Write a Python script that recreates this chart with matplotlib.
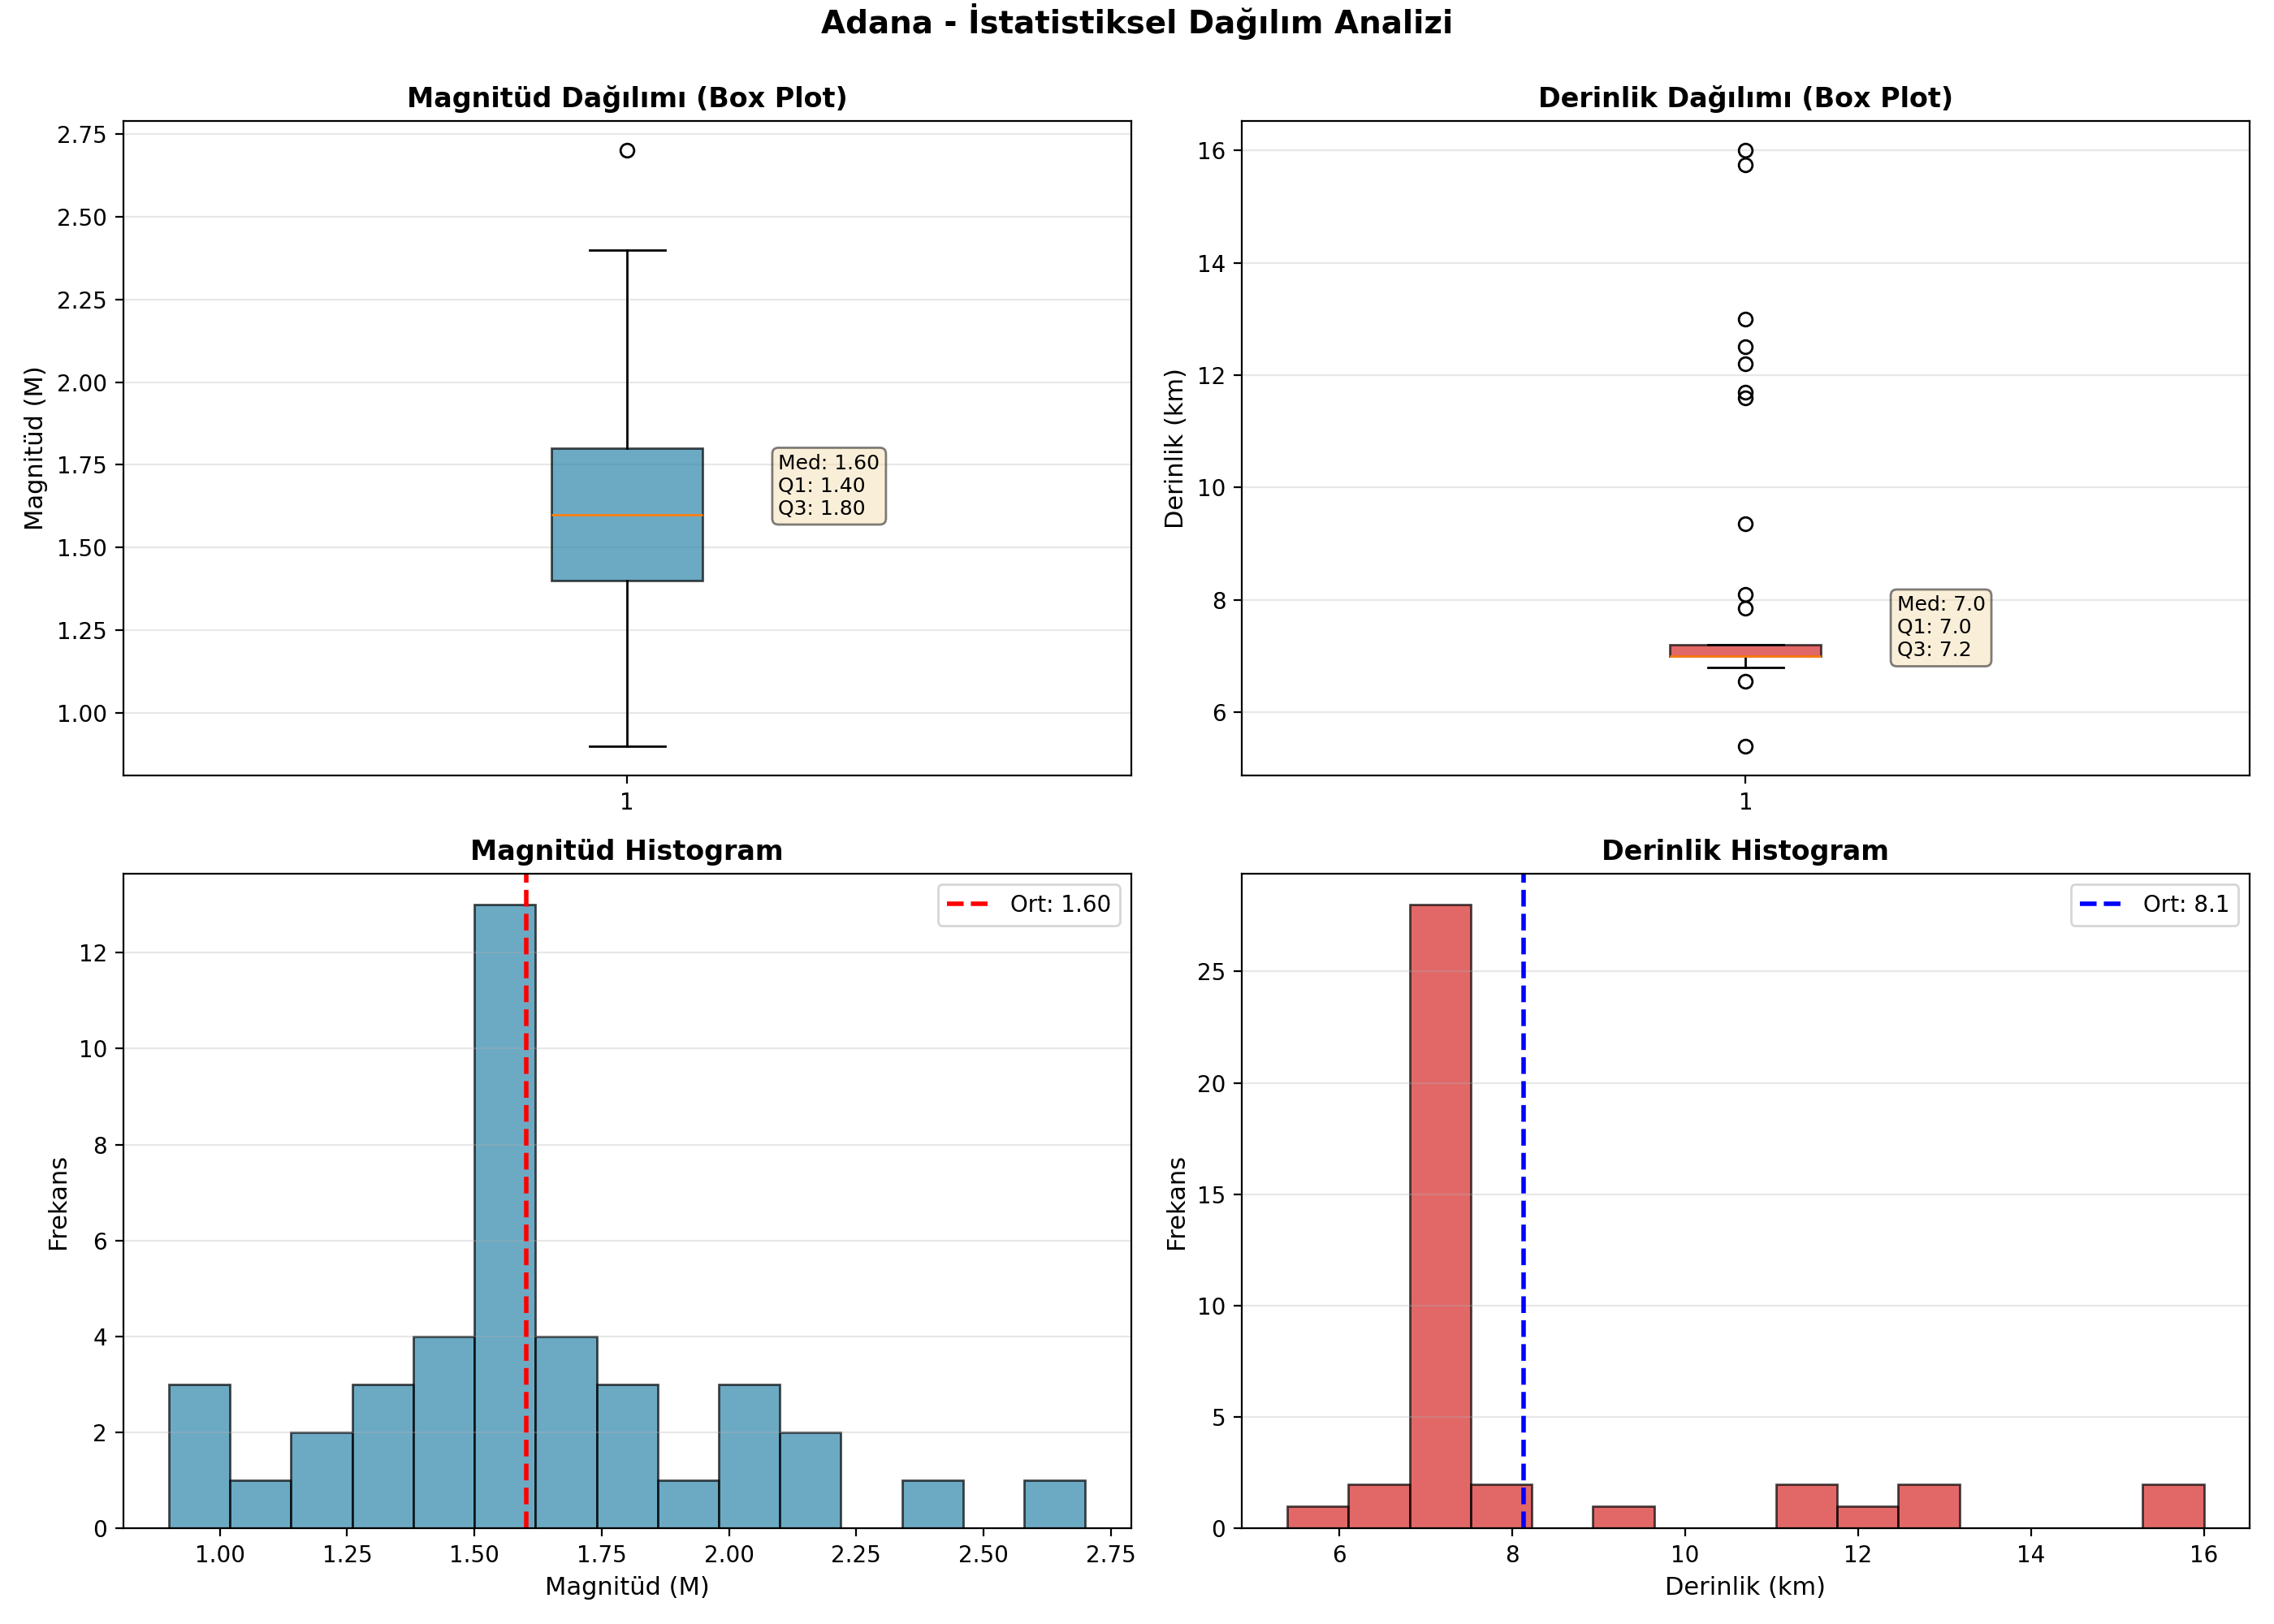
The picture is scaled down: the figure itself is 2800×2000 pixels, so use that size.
import numpy as np
import matplotlib
matplotlib.use("Agg")
import matplotlib.pyplot as plt

# Magnitude observations (M)
magnitudes = [0.9, 1.0, 1.0, 1.1, 1.2, 1.2, 1.3, 1.3, 1.3,
              1.4, 1.4, 1.4, 1.4,
              1.5, 1.5, 1.5, 1.5, 1.5,
              1.6, 1.6, 1.6, 1.6, 1.6, 1.6, 1.6, 1.6,
              1.7, 1.7, 1.7, 1.7, 1.8, 1.8, 1.8, 1.9,
              2.0, 2.0, 2.0, 2.1, 2.2, 2.4, 2.7]

# Depth observations (km)
depths = [5.4, 6.55, 6.8] + [7.0] * 24 + [7.2] * 4 + \
         [7.85, 8.1, 9.35, 11.6, 11.7, 12.2, 12.5, 13.0, 15.75, 16.0]

title = "Adana - İstatistiksel Dağılım Analizi"

mag = np.array(magnitudes)
dep = np.array(depths)

fig, axes = plt.subplots(2, 2, figsize=(14, 10), dpi=200)
sup = fig.suptitle(title, fontsize=14, fontweight="bold")

blue = "#2E86AB"
red = "#D62828"

def boxpanel(ax, data, color, ttl, ylabel, fmt):
    bp = ax.boxplot(data, patch_artist=True)
    for b in bp["boxes"]:
        b.set_facecolor(color)
        b.set_alpha(0.7)
    ax.set_title(ttl, fontweight="bold", fontsize=12)
    ax.set_ylabel(ylabel, fontsize=11)
    ax.grid(True, axis="y", alpha=0.3)
    q1, med, q3 = np.percentile(data, [25, 50, 75])
    ax.text(1.15, med, f"Med: {med:{fmt}}\nQ1: {q1:{fmt}}\nQ3: {q3:{fmt}}",
            fontsize=9,
            bbox=dict(boxstyle="round", facecolor="wheat", alpha=0.5))

boxpanel(axes[0, 0], mag, blue, "Magnitüd Dağılımı (Box Plot)", "Magnitüd (M)", ".2f")
boxpanel(axes[0, 1], dep, red, "Derinlik Dağılımı (Box Plot)", "Derinlik (km)", ".1f")

def histpanel(ax, data, color, ttl, xlabel, lcolor, fmt):
    ax.hist(data, bins=15, color=color, alpha=0.7, edgecolor="black")
    m = data.mean()
    ax.axvline(m, color=lcolor, linestyle="--", linewidth=2, label=f"Ort: {m:{fmt}}")
    ax.set_title(ttl, fontweight="bold", fontsize=12)
    ax.set_xlabel(xlabel, fontsize=11)
    ax.set_ylabel("Frekans", fontsize=11)
    ax.legend(loc="upper right")
    ax.grid(True, axis="y", alpha=0.3)

histpanel(axes[1, 0], mag, blue, "Magnitüd Histogram", "Magnitüd (M)", "red", ".2f")
histpanel(axes[1, 1], dep, red, "Derinlik Histogram", "Derinlik (km)", "blue", ".1f")

plt.tight_layout()
sup.set_y(0.998)
fig.savefig("out.png", dpi=200)
